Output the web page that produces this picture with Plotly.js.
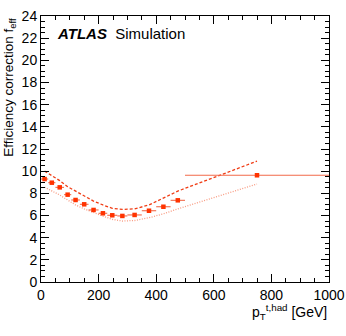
<!DOCTYPE html>
<html>
<head>
<meta charset="utf-8">
<script src="https://cdn.plot.ly/plotly-3.0.1.min.js"></script>
<style>
  html, body { margin: 0; padding: 0; background: #fff; }
  #chart { width: 346px; height: 336px; }
</style>
</head>
<body>
<div id="chart"></div>
<script>
// bin centres and half widths in pT (GeV)
const binCenters = [12.5, 37.5, 65, 92.5, 120, 150, 182.5, 215, 247.5, 282.5, 325, 375, 425, 475, 750];
const binHalfWidths = [12.5, 12.5, 15, 12.5, 15, 15, 17.5, 15, 17.5, 17.5, 25, 25, 25, 25, 250];
const fEff = [9.29, 8.96, 8.54, 7.88, 7.40, 7.01, 6.50, 6.20, 6.02, 5.96, 6.05, 6.43, 6.79, 7.37, 9.63];
const upperBand = [10.0, 9.6, 9.15, 8.6, 8.2, 7.75, 7.3, 6.95, 6.65, 6.55, 6.6, 6.95, 7.55, 8.2, 10.9];
const lowerBand = [8.55, 8.25, 7.85, 7.4, 6.95, 6.6, 6.25, 5.95, 5.65, 5.5, 5.55, 5.8, 6.15, 6.6, 8.84];

const font = "Liberation Sans, Arial, sans-serif";

const upper = {
    x: binCenters,
    y: upperBand,
    mode: "lines",
    type: "scatter",
    line: { color: "#f03c14", width: 1.3, dash: "3px,2px" },
    hoverinfo: "skip",
};

const lower = {
    x: binCenters,
    y: lowerBand,
    mode: "lines",
    type: "scatter",
    line: { color: "#f89a80", width: 1.3, dash: "1px,1.5px" },
    hoverinfo: "skip",
};

const points = {
    x: binCenters,
    y: fEff,
    mode: "markers",
    type: "scatter",
    marker: { color: "#ff3300", symbol: "square", size: 4.5 },
    error_x: { type: "data", array: binHalfWidths, color: "#f26a4a", thickness: 1.1, width: 0 },
};

const data = [upper, lower, points];

const axisCommon = {
    showgrid: false,
    zeroline: false,
    showline: true,
    linecolor: "#000",
    linewidth: 1,
    mirror: "allticks",
    ticks: "inside",
    tickcolor: "#000",
    tickfont: { family: font, size: 14, color: "#000" },
};

const layout = {
    width: 346,
    height: 336,
    margin: { l: 41, r: 17, t: 16, b: 54 },
    paper_bgcolor: "#fff",
    plot_bgcolor: "#fff",
    showlegend: false,
    xaxis: Object.assign({}, axisCommon, {
        range: [0, 1000],
        dtick: 200,
        ticklen: 8,
        minor: { dtick: 50, ticklen: 4, ticks: "inside", tickcolor: "#000" },
    }),
    yaxis: Object.assign({}, axisCommon, {
        range: [0, 24],
        dtick: 2,
        ticklen: 8,
        minor: { dtick: 0.5, ticklen: 4, ticks: "inside", tickcolor: "#000" },
    }),
    annotations: [
        {
            text: "<b><i>ATLAS</i></b>  Simulation",
            xref: "paper", yref: "paper",
            x: 0.05, y: 0.935,
            xanchor: "left", yanchor: "middle",
            showarrow: false,
            font: { family: font, size: 15, color: "#000" },
        },
        {
            text: "p<sub>T</sub><sup>t,had</sup> [GeV]",
            xref: "paper", yref: "paper",
            x: 1, y: -0.068,
            xanchor: "right", yanchor: "top",
            showarrow: false,
            font: { family: font, size: 14, color: "#000" },
        },
        {
            text: "Efficiency correction f<sub>eff</sub>",
            xref: "paper", yref: "paper",
            x: -0.11, y: 1.0,
            xanchor: "center", yanchor: "top",
            textangle: -90,
            showarrow: false,
            font: { family: font, size: 13.5, color: "#000" },
        },
    ],
};

Plotly.newPlot("chart", data, layout, { staticPlot: true });
</script>
</body>
</html>
